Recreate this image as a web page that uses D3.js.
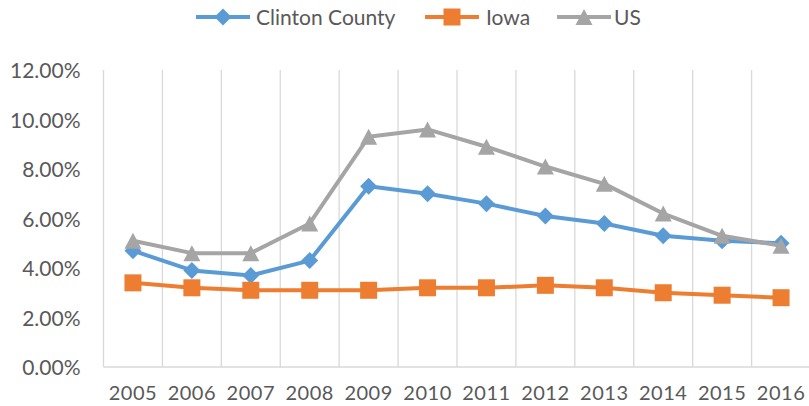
<!DOCTYPE html>
<html><head><meta charset="utf-8">
<script src="https://cdn.jsdelivr.net/npm/d3@7"></script>
<style>body{margin:0;background:#fff;}svg{display:block;font-family:Lato,"Open Sans",sans-serif;}</style>
</head><body>
<svg id="chart" width="809" height="406"></svg>
<script>
const years = ["2005","2006","2007","2008","2009","2010","2011","2012","2013","2014","2015","2016"];
const clinton = [4.7, 3.9, 3.7, 4.3, 7.3, 7.0, 6.6, 6.1, 5.8, 5.3, 5.1, 5.0];
const iowa = [3.4, 3.2, 3.1, 3.1, 3.1, 3.2, 3.2, 3.3, 3.2, 3.0, 2.9, 2.8];
const us = [5.1, 4.6, 4.6, 5.8, 9.3, 9.6, 8.9, 8.1, 7.4, 6.2, 5.3, 4.9];
const yTicks = [0, 2, 4, 6, 8, 10, 12];
const seriesNames = ["Clinton County", "Iowa", "US"];
const colors = ["#5B9BD5", "#ED7D31", "#A5A5A5"];

(function () {
const svg = d3.select("#chart");
const pL = 103.5, pR = 810.5, pT = 70, pB = 367;
const x = d3.scaleBand().domain(years).range([pL, pR]);
const y = d3.scaleLinear().domain([0, 12]).range([pB, pT]);

// marker shapes (Excel-like)
const diamond = {draw(ctx) { const r = 8.5; ctx.moveTo(0, -r); ctx.lineTo(r, 0); ctx.lineTo(0, r); ctx.lineTo(-r, 0); ctx.closePath(); }};
const square = {draw(ctx) { const r = 8.5; ctx.rect(-r, -r, 2 * r, 2 * r); }};
const triangle = {draw(ctx) { const w = 8.5, h = 8; ctx.moveTo(0, -h); ctx.lineTo(w, h); ctx.lineTo(-w, h); ctx.closePath(); }};
const shapes = [diamond, square, triangle];

const bounds = years.map(d => x(d)).concat([x.range()[1]]);
svg.append("g").selectAll("line").data(bounds.slice(1)).join("line")
  .attr("x1", d => d).attr("x2", d => d).attr("y1", pT).attr("y2", pB)
  .attr("stroke", "#d9d9d9").attr("stroke-width", 1.3);
svg.append("line").attr("x1", pL).attr("x2", pL).attr("y1", pT).attr("y2", pB)
  .attr("stroke", "#d9d9d9").attr("stroke-width", 1.3);
svg.append("line").attr("x1", pL).attr("x2", pR).attr("y1", pB).attr("y2", pB)
  .attr("stroke", "#d9d9d9").attr("stroke-width", 1.3);

const yAxis = d3.axisLeft(y).tickValues(yTicks).tickFormat(d => d.toFixed(2) + "%").tickSize(0).tickPadding(23);
const gy = svg.append("g").attr("transform", `translate(${pL},0)`).call(yAxis);
gy.select(".domain").remove();
gy.selectAll("text").attr("fill", "#595959").style("font-size", "21px").style("font-family", "Lato, sans-serif").attr("dy", "0.36em");

const xAxis = d3.axisBottom(x).tickSize(0).tickPadding(19);
const gx = svg.append("g").attr("transform", `translate(0,${pB})`).call(xAxis);
gx.select(".domain").remove();
gx.selectAll("text").attr("fill", "#595959").style("font-size", "20px").style("letter-spacing", "0.5px").style("font-family", "Lato, sans-serif");

const data = [clinton, iowa, us];
const line = d3.line().x((d, i) => x(years[i]) + x.bandwidth() / 2).y(d => y(d));
data.forEach((vals, k) => {
  const g = svg.append("g");
  g.append("path").datum(vals).attr("d", line).attr("fill", "none")
    .attr("stroke", colors[k]).attr("stroke-width", 4).attr("stroke-linejoin", "round");
  g.selectAll("path.m").data(vals).join("path").attr("class", "m")
    .attr("transform", (d, i) => `translate(${x(years[i]) + x.bandwidth() / 2},${y(d)})`)
    .attr("d", d3.symbol().type(shapes[k]))
    .attr("fill", colors[k]);
});

const legendItems = [
  {x0: 196, tx: 256},
  {x0: 425, tx: 486},
  {x0: 557, tx: 614}
];
const lg = svg.append("g");
legendItems.forEach((it, k) => {
  lg.append("line").attr("x1", it.x0).attr("x2", it.x0 + 54).attr("y1", 17).attr("y2", 17)
    .attr("stroke", colors[k]).attr("stroke-width", 4);
  lg.append("path").attr("transform", `translate(${it.x0 + 27},17)`)
    .attr("d", d3.symbol().type(shapes[k])).attr("fill", colors[k]);
  lg.append("text").attr("x", it.tx).attr("y", 17).attr("dy", "0.36em")
    .attr("fill", "#595959").style("font-size", "21px").style("font-family", "Lato, sans-serif")
    .text(seriesNames[k]);
});
})();
</script>
</body></html>
